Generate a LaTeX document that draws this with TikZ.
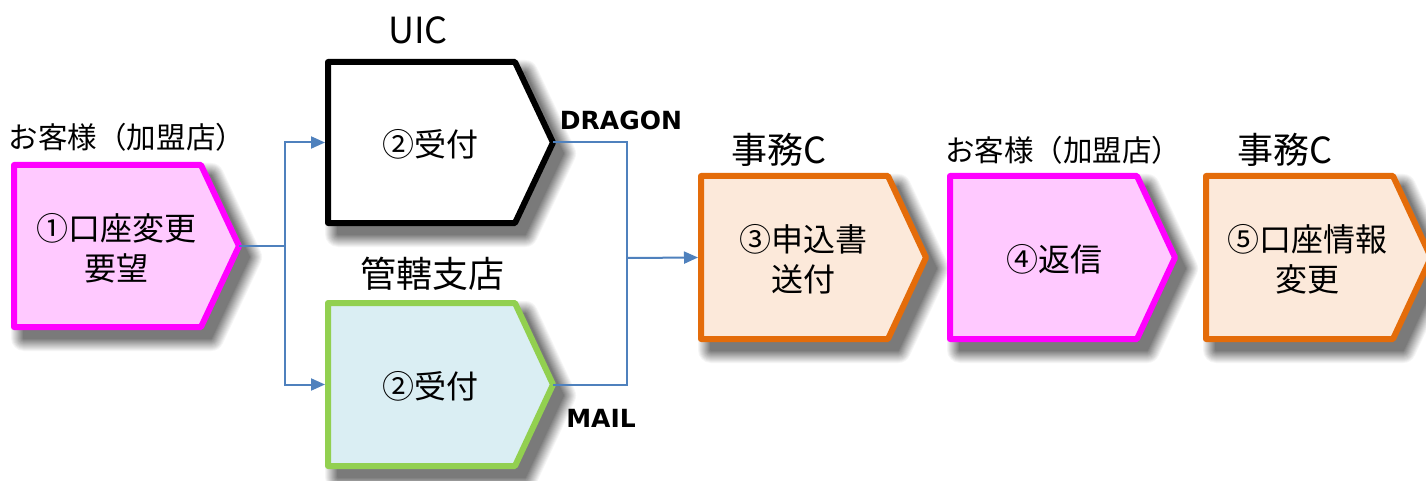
\documentclass[tikz,border=0pt]{standalone}
\usepackage{fontspec}
\setmainfont{Noto Sans CJK JP}
\newfontfamily\tagfont{DejaVu Sans}
\usetikzlibrary{arrows.meta}
\definecolor{pinkfill}{HTML}{FFC9FF}
\definecolor{pinkline}{HTML}{FF00FF}
\definecolor{orfill}{HTML}{FCE9DA}
\definecolor{orline}{HTML}{E46C0A}
\definecolor{bluefill}{HTML}{DAEEF3}
\definecolor{grline}{HTML}{92D050}
\definecolor{conn}{HTML}{4F81BD}
\tikzset{
  conline/.style={draw=conn, line width=2pt},
  arr/.style={conline, -{Triangle[length=14pt,width=12pt]}},
  lbl/.style={font=\fontsize{29.5}{34}\selectfont, inner sep=0pt},
  biglbl/.style={font=\fontsize{36}{40}\selectfont, inner sep=0pt},
  intext/.style={font=\fontsize{32}{40}\selectfont, align=center, inner sep=0pt},
  tag/.style={font=\tagfont\bfseries\fontsize{25}{28}\selectfont, inner sep=0pt},
  pent/.style={line width=6pt, line join=round},
}
% #1 name, #2 left, #3 top, #4 bottom, #5 style
\newcommand{\pentbox}[5]{%
  \pgfmathsetmacro{\pl}{#2}\pgfmathsetmacro{\pt}{#3}\pgfmathsetmacro{\pb}{#4}%
  \pgfmathsetmacro{\pc}{#2+187}\pgfmathsetmacro{\ptip}{#2+225}%
  \pgfmathsetmacro{\pm}{(#3+#4)/2}%
  \foreach \w [count=\k] in {26,24,...,2}{%
    \pgfmathsetmacro{\shd}{4*\k}%
    \filldraw[black!\shd, line width=\w pt, line join=round, shift={(10pt,-11pt)}]
      (\pl,\pt) -- (\pc,\pt) -- (\ptip,\pm) -- (\pc,\pb) -- (\pl,\pb) -- cycle;}
  \filldraw[pent,#5] (\pl,\pt) -- (\pc,\pt) -- (\ptip,\pm) -- (\pc,\pb) -- (\pl,\pb) -- cycle;
  \coordinate (#1in) at (\pl-3,\pm);
  \coordinate (#1tip) at (\ptip,\pm);
}
\begin{document}
\begin{tikzpicture}[x=1pt,y=-1pt]
\useasboundingbox (0,0) rectangle (1426,481);
\fill[white] (0,0) rectangle (1426,481);

\pentbox{sa}{14}{165}{327}{draw=pinkline, fill=pinkfill}
\pentbox{sb}{328}{62}{223}{draw=black, fill=white}
\pentbox{sc}{328}{303}{466}{draw=grline, fill=bluefill}
\pentbox{sd}{701}{176}{339}{draw=orline, fill=orfill}
\pentbox{se}{950}{176}{339}{draw=pinkline, fill=pinkfill}
\pentbox{sf}{1206}{176}{339}{draw=orline, fill=orfill}

% inner texts
\node[intext] (ta) at (116,248) {①口座変更\\要望};
\node[intext] (tb) at (430,144) {②受付};
\node[intext] (tc) at (430,386) {②受付};
\node[intext] (td) at (803,259) {③申込書\\送付};
\node[intext] (te) at (1054,259) {④返信};
\node[intext] (tf) at (1307,259) {⑤口座情報\\変更};

% labels
\node[lbl] (la) at (127,137) {お客様（加盟店）};
\node[biglbl] (lb) at (418,30) {UIC};
\node[biglbl] (lc) at (432,274) {管轄支店};
\node[biglbl] (ld) at (779,150) {事務C};
\node[lbl] (le) at (1063,150) {お客様（加盟店）};
\node[biglbl] (lf) at (1285,150) {事務C};
\node[tag] (tg1) at (621,120) {DRAGON};
\node[tag] (tg2) at (601,418) {MAIL};

% connectors
\coordinate (j1) at (285,246);
\coordinate (j2) at (627,258);
\draw[conline] (satip) -- (j1);
\draw[arr] (j1) |- (sbin);
\draw[arr] (j1) |- (scin);
\draw[conline] (sbtip) -| (j2);
\draw[conline] (sctip) -| (j2);
\draw[arr] (j2) -- (sdin);
\end{tikzpicture}
\end{document}
